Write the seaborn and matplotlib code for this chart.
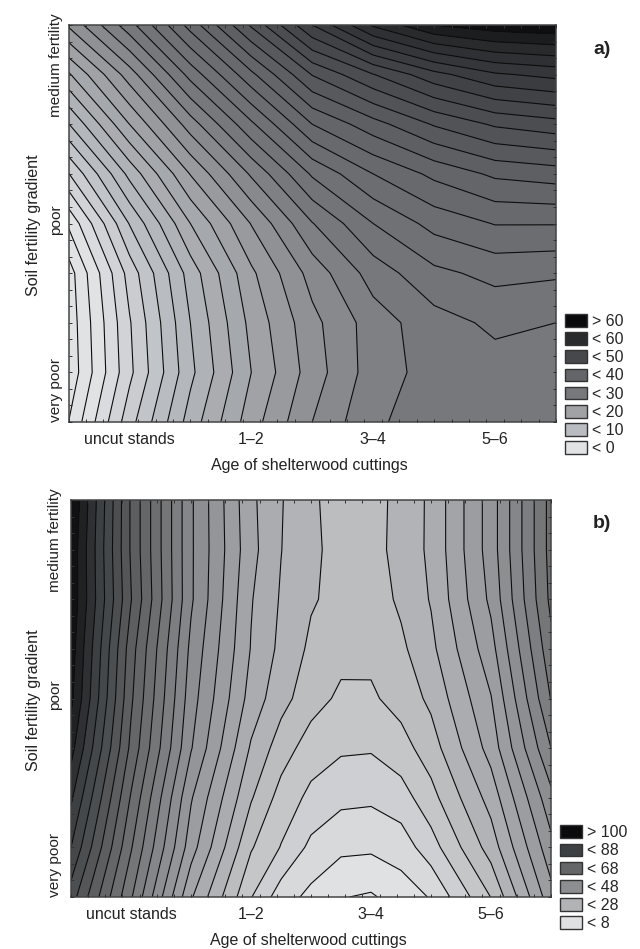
#!/usr/bin/env python3
"""Contour plots of two responses over cutting age and soil fertility."""

import numpy as np
import matplotlib
matplotlib.use("Agg")
import matplotlib.pyplot as plt
import seaborn as sns
from matplotlib.colors import LinearSegmentedColormap, Normalize
from matplotlib.patches import Patch

age_labels = ["uncut stands", "1–2", "3–4", "5–6"]
soil_labels = ["very poor", "poor", "medium fertility"]
age_positions = [1, 3, 5, 7]
soil_positions = [0.65, 4.07, 7.2]

age_grid_a = [0, 1, 2, 3, 4, 5, 6, 7, 8]
age_grid_b = [0, 1, 2, 3, 3.5, 4, 4.5, 5, 5.5, 6, 7, 8]
soil_grid = [8, 7, 6, 5, 4, 3, 2, 1, 0]

# rows run from the top of the panel (medium fertility) down to very poor
values_a = [
    [22.3, 29.2, 36.8, 44.3, 52.0, 58.3, 62.0, 63.2, 63.6],
    [15.7, 23.0, 30.7, 37.5, 44.1, 47.9, 51.3, 53.7, 54.6],
    [9.9, 18.0, 25.0, 31.6, 38.0, 41.2, 44.2, 46.3, 47.2],
    [3.9, 12.6, 20.1, 26.3, 32.3, 36.0, 38.5, 40.4, 41.0],
    [-1.7, 8.1, 16.0, 22.1, 27.9, 32.0, 34.7, 36.1, 36.1],
    [-5.0, 4.8, 12.9, 19.6, 24.8, 28.9, 31.5, 32.6, 32.3],
    [-5.3, 3.8, 12.0, 18.6, 23.4, 27.0, 29.2, 30.4, 30.0],
    [-5.5, 3.5, 11.5, 18.0, 23.0, 27.0, 28.8, 29.2, 29.1],
    [-4.0, 5.2, 12.9, 19.1, 24.0, 27.7, 28.9, 29.3, 29.4],
]
values_b = [
    [100.0, 71.5, 48.6, 32.9, 28.3, 24.4, 23.0, 22.5, 25.2, 28.8, 41.9, 61.5],
    [99.0, 71.5, 48.6, 33.3, 28.1, 24.6, 23.0, 22.5, 25.4, 28.8, 41.9, 61.5],
    [99.0, 72.2, 48.6, 32.3, 27.6, 24.4, 22.8, 22.0, 24.7, 28.3, 40.9, 61.0],
    [98.0, 69.8, 47.0, 31.8, 27.0, 23.2, 21.3, 21.0, 23.2, 27.0, 38.5, 58.8],
    [97.0, 68.7, 45.8, 30.4, 25.4, 21.7, 19.2, 19.4, 21.5, 24.9, 35.8, 56.2],
    [93.5, 67.0, 44.3, 27.5, 22.0, 18.0, 16.6, 16.4, 18.4, 22.1, 33.6, 52.0],
    [88.7, 63.6, 40.4, 24.4, 18.4, 15.0, 13.0, 12.7, 14.2, 18.6, 29.6, 46.8],
    [84.0, 60.4, 37.8, 20.4, 15.8, 11.0, 8.9, 8.7, 9.9, 14.2, 25.8, 42.7],
    [78.0, 56.5, 32.5, 16.2, 9.9, 6.9, 4.2, 3.5, 5.8, 8.3, 20.1, 38.5],
]

levels_a = np.arange(-6, 66, 2)
levels_b = np.arange(0, 108, 4)

legend_a = ["> 60", "< 60", "< 50", "< 40", "< 30", "< 20", "< 10", "< 0"]
legend_b = ["> 100", "< 88", "< 68", "< 48", "< 28", "< 8"]
greys_a = ["#0a0a0d", "#2a2b2d", "#47484c", "#636568", "#77787c", "#a0a2a6", "#b9bcc0", "#e1e2e4"]
greys_b = ["#0a0a0d", "#3d4042", "#656668", "#8c8e91", "#b1b3b6", "#e0e1e3"]
anchors_a = [-1, 9, 19, 29, 39, 49, 59, 64]
anchors_b = [6, 26, 46, 66, 86, 100]

WIDTH, HEIGHT = 640, 949


def make_cmap(anchors, greys):
    """Grey ramp that hits each legend colour at its own value."""
    low, high = anchors[0], anchors[-1]
    stops = [(a - low) / (high - low) for a in anchors]
    cmap = LinearSegmentedColormap.from_list("greys", list(zip(stops, greys[::-1])))
    return cmap, Normalize(low, high)


def draw_panel(fig, box, age_grid, values, levels, anchors, greys, legend_labels,
               letter, legend_pos, ytick_pad):
    left, top, right, bottom = box
    ax = fig.add_axes([left / WIDTH, 1 - bottom / HEIGHT,
                       (right - left) / WIDTH, (bottom - top) / HEIGHT])
    grid = np.array(values)

    cmap, norm = make_cmap(anchors, greys)
    ax.contourf(age_grid, soil_grid, grid, levels=levels, cmap=cmap, norm=norm)
    ax.contour(age_grid, soil_grid, grid, levels=levels, colors="#0d0d0d",
               linewidths=0.8, negative_linestyles="solid")
    ax.set_axisbelow(False)

    ax.set_xticks(age_positions)
    ax.set_xticklabels(age_labels)
    ax.set_yticks(soil_positions)
    ax.set_yticklabels(soil_labels, rotation=90, va="center")
    ax.set_xticks(np.linspace(0, 8, 29), minor=True)
    ax.set_yticks(np.linspace(0, 8, 25), minor=True)
    ax.tick_params(which="major", length=0, colors="#222222")
    ax.tick_params(axis="x", which="major", labelsize=11.5, pad=7)
    ax.tick_params(axis="y", which="major", labelsize=11.1, pad=ytick_pad)
    ax.tick_params(which="minor", direction="in", length=2.5, width=0.7,
                   top=True, right=True, color="#333333")
    ax.set_xlabel("Age of shelterwood cuttings", fontsize=11.5, labelpad=8,
                  color="#222222", x=0.495)
    ax.set_ylabel("Soil fertility gradient", fontsize=11.6, labelpad=5.5, color="#222222",
                  y=0.495)
    for spine in ax.spines.values():
        spine.set_visible(True)
        spine.set_linewidth(1.1)
        spine.set_color("#444444")

    handles = [Patch(facecolor=g, edgecolor="#333333", linewidth=1.0) for g in greys]
    fig.legend(handles, legend_labels, loc="lower left",
               bbox_to_anchor=(legend_pos[0] / WIDTH, 1 - legend_pos[1] / HEIGHT),
               frameon=False, fontsize=11.5, handlelength=1.4, handleheight=0.85,
               handletextpad=0.3, labelspacing=0.2, borderpad=0.3, borderaxespad=0)

    fig.text(593 / WIDTH, 1 - (top + 24) / HEIGHT, letter, fontsize=14,
             fontweight="bold", va="center", color="#222222")
    return ax


def main():
    sns.set_theme(style="ticks")
    plt.rcParams["font.family"] = ["Liberation Sans", "DejaVu Sans"]

    fig = plt.figure(figsize=(WIDTH / 100, HEIGHT / 100), dpi=100)
    draw_panel(fig, (68.5, 25, 556, 422), age_grid_a, values_a, levels_a, anchors_a,
               greys_a, legend_a, "a)", (560, 461), 4.1)
    draw_panel(fig, (71, 500, 551, 897), age_grid_b, values_b, levels_b, anchors_b,
               greys_b, legend_b, "b)", (555, 936), 6.3)
    fig.savefig("out.png", dpi=100)


if __name__ == "__main__":
    main()
